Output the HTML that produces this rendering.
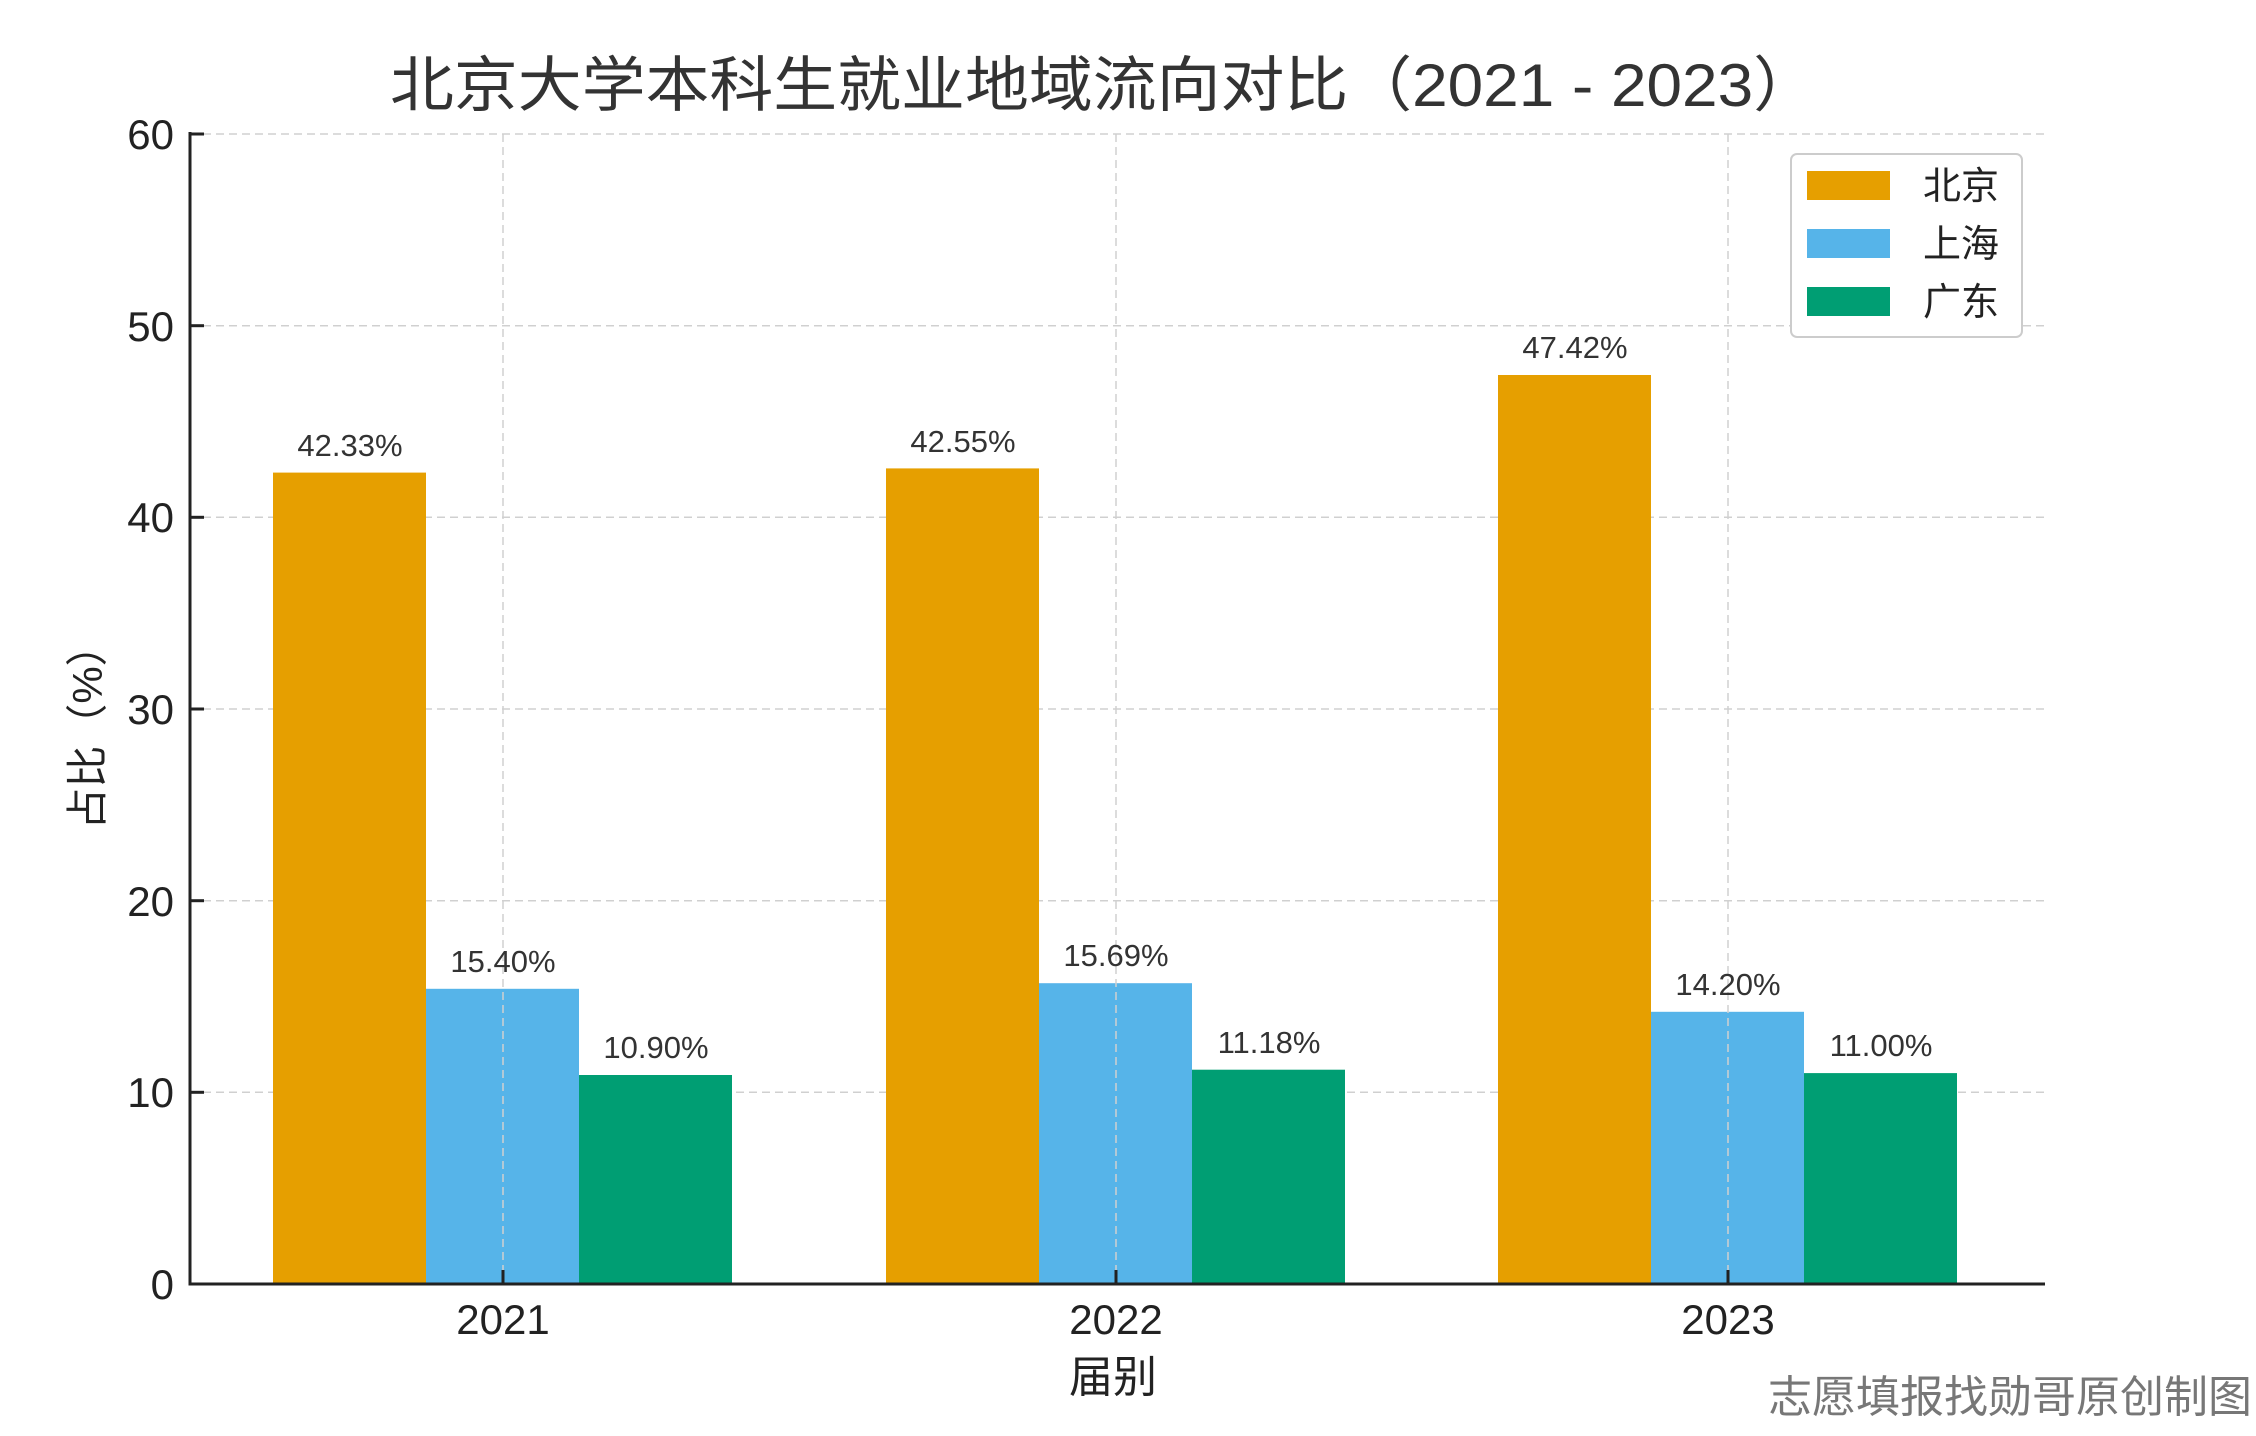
<!DOCTYPE html>
<html><head><meta charset="utf-8"><style>html,body{margin:0;padding:0;background:#fff}svg{display:block}</style></head><body>
<svg width="2256" height="1436" viewBox="0 0 2256 1436" xmlns="http://www.w3.org/2000/svg" font-family="'Liberation Sans','Noto Sans CJK SC',sans-serif">
<rect width="2256" height="1436" fill="#fff"/>
<g stroke="#d0d0d0" stroke-width="1.5" stroke-dasharray="8,5">
<line x1="190" y1="134" x2="2045" y2="134"/>
<line x1="190" y1="325.7" x2="2045" y2="325.7"/>
<line x1="190" y1="517.3" x2="2045" y2="517.3"/>
<line x1="190" y1="709" x2="2045" y2="709"/>
<line x1="190" y1="900.7" x2="2045" y2="900.7"/>
<line x1="190" y1="1092.3" x2="2045" y2="1092.3"/>
</g>
<g>
<rect x="273" y="472.6" width="153" height="811.4" fill="#E69F00"/>
<rect x="426" y="988.8" width="153" height="295.2" fill="#56B4E9"/>
<rect x="579" y="1075" width="153" height="209" fill="#009E73"/>
<rect x="886" y="468.4" width="153" height="815.6" fill="#E69F00"/>
<rect x="1039" y="983.2" width="153" height="300.8" fill="#56B4E9"/>
<rect x="1192" y="1069.7" width="153" height="214.3" fill="#009E73"/>
<rect x="1498" y="375" width="153" height="909" fill="#E69F00"/>
<rect x="1651" y="1011.8" width="153" height="272.2" fill="#56B4E9"/>
<rect x="1804" y="1073.1" width="153" height="210.9" fill="#009E73"/>
</g>
<g stroke="#d0d0d0" stroke-width="1.5" stroke-dasharray="8,5">
<line x1="503" y1="134" x2="503" y2="1284"/>
<line x1="1116" y1="134" x2="1116" y2="1284"/>
<line x1="1728" y1="134" x2="1728" y2="1284"/>
</g>
<g stroke="#222" stroke-width="3">
<line x1="190" y1="132" x2="190" y2="1285.5"/>
<line x1="188.5" y1="1284" x2="2045" y2="1284"/>
<line x1="190" y1="134" x2="204" y2="134"/><line x1="190" y1="325.7" x2="204" y2="325.7"/><line x1="190" y1="517.3" x2="204" y2="517.3"/><line x1="190" y1="709" x2="204" y2="709"/><line x1="190" y1="900.7" x2="204" y2="900.7"/><line x1="190" y1="1092.3" x2="204" y2="1092.3"/>
<line x1="503" y1="1284" x2="503" y2="1270"/><line x1="1116" y1="1284" x2="1116" y2="1270"/><line x1="1728" y1="1284" x2="1728" y2="1270"/>
</g>
<g font-size="42" fill="#222" text-anchor="end">
<text x="174" y="149">60</text><text x="174" y="341">50</text><text x="174" y="532">40</text><text x="174" y="724">30</text><text x="174" y="916">20</text><text x="174" y="1107">10</text><text x="174" y="1299">0</text>
</g>
<g font-size="42" fill="#222" text-anchor="middle">
<text x="503" y="1334">2021</text><text x="1116" y="1334">2022</text><text x="1728" y="1334">2023</text>
</g>
<g font-size="31" fill="#333" text-anchor="middle">
<text x="350" y="456">42.33%</text><text x="503" y="972">15.40%</text><text x="656" y="1058">10.90%</text>
<text x="963" y="452">42.55%</text><text x="1116" y="966">15.69%</text><text x="1269" y="1053">11.18%</text>
<text x="1575" y="358">47.42%</text><text x="1728" y="995">14.20%</text><text x="1881" y="1056">11.00%</text>
</g>
<text x="390" y="106" font-size="60" fill="#333" textLength="1427" lengthAdjust="spacingAndGlyphs">北京大学本科生就业地域流向对比（2021 - 2023）</text>
<text x="1113" y="1392" font-size="44" fill="#222" text-anchor="middle">届别</text>
<text transform="translate(102,727) rotate(-90)" font-size="42" fill="#222" text-anchor="middle">占比（%）</text>
<rect x="1791" y="154" width="231" height="183" rx="6" fill="#fff" stroke="#ccc" stroke-width="2"/>
<rect x="1807" y="171" width="83" height="29" fill="#E69F00"/>
<rect x="1807" y="229" width="83" height="29" fill="#56B4E9"/>
<rect x="1807" y="287" width="83" height="29" fill="#009E73"/>
<g font-size="38" fill="#222"><text x="1923" y="199">北京</text><text x="1923" y="257">上海</text><text x="1923" y="315">广东</text></g>
<text x="2252" y="1412" font-size="44" fill="#777" text-anchor="end">志愿填报找勋哥原创制图</text>
</svg>
</body></html>
